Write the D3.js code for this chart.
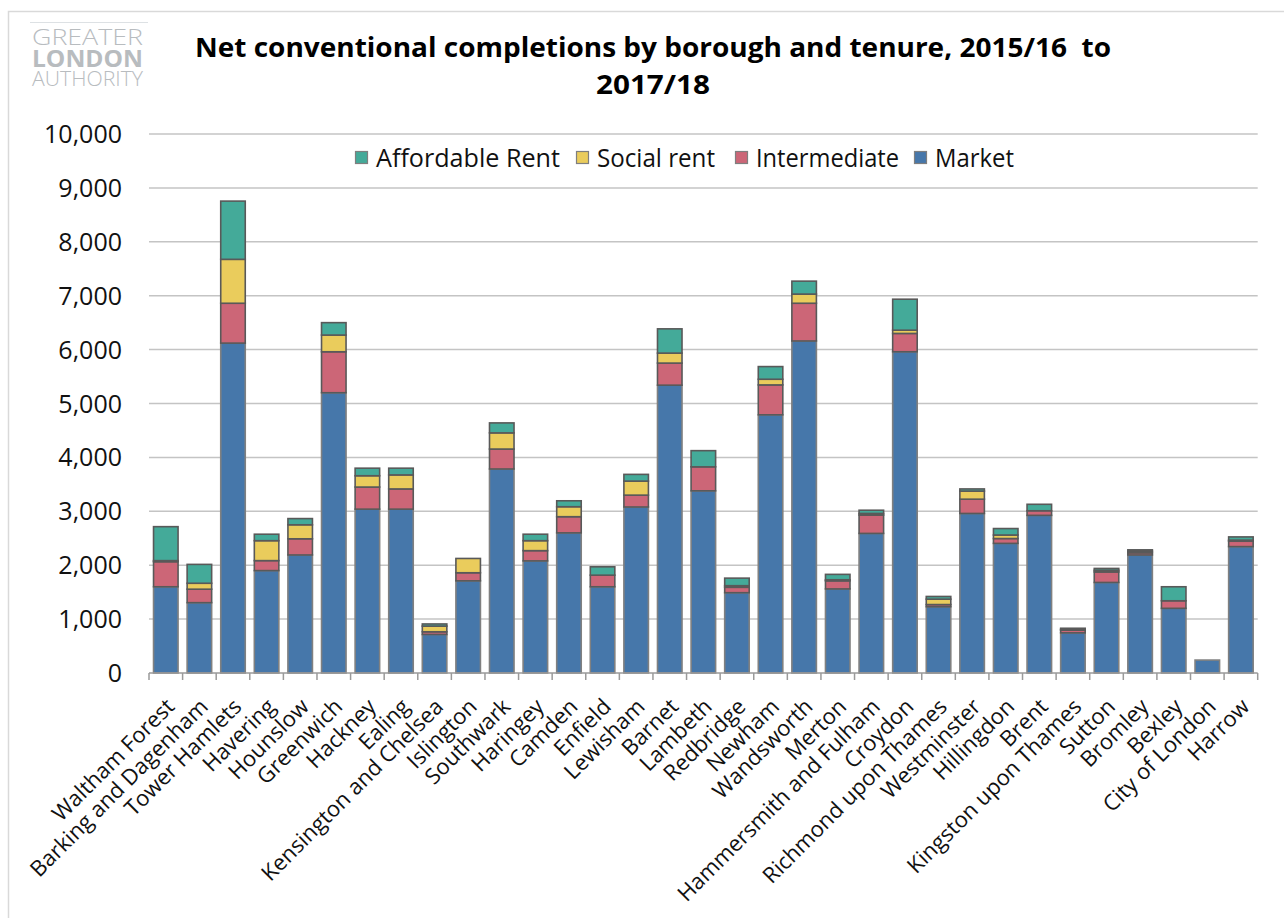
<!DOCTYPE html>
<html>
<head>
<meta charset="utf-8">
<script src="https://cdn.jsdelivr.net/npm/d3@7/dist/d3.min.js"></script>
<style>
  html, body { margin: 0; padding: 0; background: #fff; }
  svg { display: block; }
  text { font-family: "Open Sans", "Noto Sans", sans-serif; }
</style>
</head>
<body>
<svg id="chart" width="1284" height="918"></svg>
<script>
// ---- Data ----
const boroughs = ["Waltham Forest","Barking and Dagenham","Tower Hamlets","Havering","Hounslow","Greenwich","Hackney","Ealing","Kensington and Chelsea","Islington","Southwark","Haringey","Camden","Enfield","Lewisham","Barnet","Lambeth","Redbridge","Newham","Wandsworth","Merton","Hammersmith and Fulham","Croydon","Richmond upon Thames","Westminster","Hillingdon","Brent","Kingston upon Thames","Sutton","Bromley","Bexley","City of London","Harrow"];
const market       = [1600,1305,6120,1900,2190,5200,3040,3040,715,1710,3785,2080,2600,1600,3080,5340,3380,1490,4790,6160,1560,2590,5960,1230,2960,2405,2925,745,1680,2190,1200,240,2345];
const intermediate = [465,250,740,185,300,760,410,375,50,150,370,190,300,215,220,410,445,100,555,700,150,340,340,40,265,90,85,50,195,40,140,0,100];
const socialRent   = [20,110,815,370,260,310,210,260,105,265,300,185,185,0,260,185,0,30,105,170,20,30,60,100,150,65,0,15,30,30,0,0,20];
const affordable   = [630,350,1080,120,115,230,140,125,40,0,185,120,110,155,125,450,300,140,235,240,100,60,575,50,40,120,120,20,35,25,260,0,60];
const seriesNames  = ["Market","Intermediate","Social rent","Affordable Rent"];
const legendOrder  = ["Affordable Rent","Social rent","Intermediate","Market"];
const yTicks       = [0,1000,2000,3000,4000,5000,6000,7000,8000,9000,10000];
const titleLines   = ["Net conventional completions by borough and tenure, 2015/16  to","2017/18"];

// ---- Styles ----
const colors = {"Market":"#4677AA","Intermediate":"#CC6677","Social rent":"#EACC5C","Affordable Rent":"#44AA99"};
const strokes = {"Market":"#808080","Intermediate":"#595959","Social rent":"#595959","Affordable Rent":"#595959"};

const svg = d3.select("#chart");
svg.append("rect").attr("width",1284).attr("height",918).attr("fill","#fff");
svg.append("rect").attr("x",8.5).attr("y",11.5).attr("width",1400).attr("height",1000)
   .attr("fill","none").attr("stroke","#d9d9d9").attr("stroke-width",1.5);

// Logo
const logo = svg.append("g").attr("fill","#b8bcbf");
svg.append("line").attr("x1",30).attr("x2",148).attr("y1",22.5).attr("y2",22.5).attr("stroke","#dde1e4").attr("stroke-width",1);
logo.append("text").attr("x",32).attr("y",45).attr("font-size",22).attr("font-weight",300)
    .attr("textLength",111).attr("lengthAdjust","spacingAndGlyphs").text("GREATER");
logo.append("text").attr("x",32).attr("y",66.5).attr("font-size",23).attr("font-weight",700)
    .attr("textLength",111).attr("lengthAdjust","spacingAndGlyphs").text("LONDON");
logo.append("text").attr("x",32).attr("y",86).attr("font-size",20).attr("font-weight",300)
    .attr("textLength",111).attr("lengthAdjust","spacingAndGlyphs").text("AUTHORITY");

// Title
const titleWidths = [916, 114];
titleLines.forEach((t,i) => {
  svg.append("text").attr("x",653).attr("y",57 + i*37).attr("text-anchor","middle")
     .attr("font-size",26).attr("font-weight",700).attr("fill","#000")
     .attr("textLength",titleWidths[i]).attr("lengthAdjust","spacingAndGlyphs")
     .style("white-space","pre").text(t);
});

// Scales
const x = d3.scaleBand().domain(boroughs).range([149, 1257.7]).paddingInner(0.27).paddingOuter(0.135);
const y = d3.scaleLinear().domain([0,10000]).range([673,134]);

// Gridlines
svg.append("g").selectAll("line").data(yTicks.filter(d=>d>0)).join("line")
  .attr("x1",149).attr("x2",1257.7).attr("y1",d=>y(d)).attr("y2",d=>y(d))
  .attr("stroke","#c4c4c4").attr("stroke-width",1.5);

// Y tick labels
svg.append("g").selectAll("text").data(yTicks).join("text")
  .attr("x",122).attr("y",d=>y(d)).attr("dy","0.36em").attr("text-anchor","end")
  .attr("font-size",25).attr("fill","#111").text(d=>d3.format(",")(d));

// Stacked bars
const table = boroughs.map((b,i)=>({borough:b,"Market":market[i],"Intermediate":intermediate[i],"Social rent":socialRent[i],"Affordable Rent":affordable[i]}));
const stacked = d3.stack().keys(seriesNames)(table);
const gBars = svg.append("g");
stacked.forEach(layer => {
  gBars.append("g").selectAll("rect").data(layer.filter(d=>d[1]-d[0]>0)).join("rect")
    .attr("x",d=>x(d.data.borough)).attr("width",x.bandwidth())
    .attr("y",d=>y(d[1])).attr("height",d=>y(d[0])-y(d[1]))
    .attr("fill",colors[layer.key]).attr("stroke",strokes[layer.key]).attr("stroke-width",1.6);
});

// X axis line and ticks
const axisG = svg.append("g");
axisG.append("line").attr("x1",149).attr("x2",1257.7).attr("y1",673).attr("y2",673).attr("stroke","#9a9a9a").attr("stroke-width",1.5);
const step = x.step();
axisG.selectAll("line.tick").data(d3.range(boroughs.length+1)).join("line").attr("class","tick")
  .attr("x1",i=>149 + i*step).attr("x2",i=>149 + i*step).attr("y1",673).attr("y2",680)
  .attr("stroke","#9a9a9a").attr("stroke-width",1.5);

// Category labels
svg.append("g").selectAll("text").data(boroughs).join("text")
  .attr("transform",d=>`translate(${x(d)+x.bandwidth()/2+10},708) rotate(-45)`)
  .attr("text-anchor","end").attr("font-size",22).attr("fill","#111").text(d=>d);

// Legend
const legendX = [355, 576, 735, 914];
const legendW = [184, 118, 143, 79];
const lg = svg.append("g");
legendOrder.forEach((k,i)=>{
  lg.append("rect").attr("x",legendX[i]+0.5).attr("y",151.5).attr("width",12).attr("height",12)
    .attr("fill",colors[k]).attr("stroke","#7f7f7f").attr("stroke-width",1.2);
  lg.append("text").attr("x",legendX[i]+21).attr("y",167).attr("font-size",25).attr("fill","#111")
    .attr("textLength",legendW[i]).attr("lengthAdjust","spacingAndGlyphs").text(k);
});
</script>
</body>
</html>
